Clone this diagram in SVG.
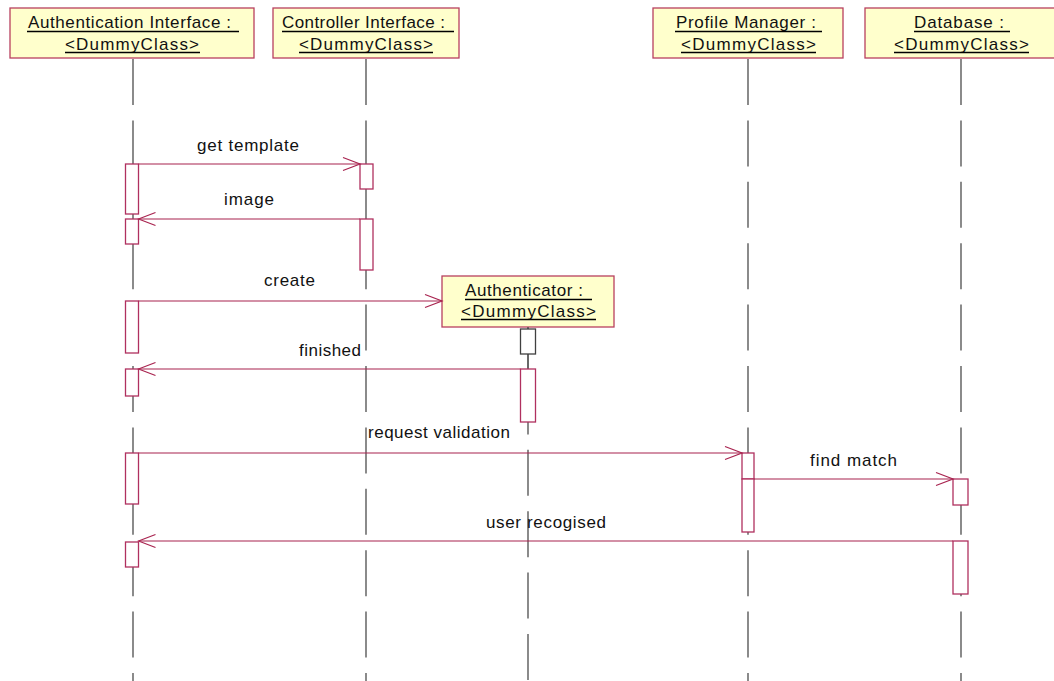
<svg xmlns="http://www.w3.org/2000/svg" width="1054" height="681" viewBox="0 0 1054 681">
  <defs>
    <style>
      .obj { fill: #ffffcc; stroke: #b8405f; stroke-width: 1.3; }
      .life { stroke: #5a5a5a; stroke-width: 1.4; fill: none; stroke-dasharray: 46 15.4; }
      .solid { stroke: #5a5a5a; stroke-width: 1.4; fill: none; }
      .act { fill: #ffffff; stroke: #b0305f; stroke-width: 1.3; }
      .actk { fill: #ffffff; stroke: #404040; stroke-width: 1.3; }
      .msg { stroke: #a8234f; stroke-width: 1.2; fill: none; }
      .ul { stroke: #000000; stroke-width: 1.3; }
      text { font-family: "Liberation Sans", Arial, sans-serif; font-size: 17px; fill: #111111; }
    </style>
    <marker id="open" viewBox="0 0 20 16" refX="18" refY="8" markerWidth="20" markerHeight="16" markerUnits="userSpaceOnUse" orient="auto">
      <path d="M1,1.5 L18,8 L1,14.5" fill="none" stroke="#a8234f" stroke-width="1.2"/>
    </marker>
  </defs>
  <rect width="1054" height="681" fill="#ffffff"/>

  <!-- lifelines -->
  <g id="lifelines">
    <line class="life" x1="133" y1="59" x2="133" y2="681"/>
    <line class="life" x1="366" y1="59" x2="366" y2="681"/>
    <line class="life" x1="528" y1="327" x2="528" y2="681"/>
    <line class="life" x1="748" y1="59" x2="748" y2="681"/>
    <line class="life" x1="961" y1="59" x2="961" y2="681"/>
  </g>

  <g id="auth-interface">
    <rect class="obj" x="10" y="8" width="244" height="50"/>
    <text x="28" y="28" textLength="203" lengthAdjust="spacing">Authentication Interface :</text>
    <line class="ul" x1="27" y1="31.5" x2="239" y2="31.5"/>
    <text x="65" y="50" textLength="134" lengthAdjust="spacing">&lt;DummyClass&gt;</text>
    <line class="ul" x1="65" y1="52.5" x2="200" y2="52.5"/>
  </g>

  <g id="controller-interface">
    <rect class="obj" x="273" y="8" width="186" height="50"/>
    <text x="282" y="28" textLength="163" lengthAdjust="spacing">Controller Interface :</text>
    <line class="ul" x1="282" y1="31.5" x2="454" y2="31.5"/>
    <text x="299" y="50" textLength="134" lengthAdjust="spacing">&lt;DummyClass&gt;</text>
    <line class="ul" x1="299" y1="52.5" x2="433" y2="52.5"/>
  </g>

  <g id="profile-manager">
    <rect class="obj" x="653" y="8" width="190" height="50"/>
    <text x="676" y="28" textLength="140" lengthAdjust="spacing">Profile Manager :</text>
    <line class="ul" x1="675" y1="31.5" x2="822" y2="31.5"/>
    <text x="681" y="50" textLength="135" lengthAdjust="spacing">&lt;DummyClass&gt;</text>
    <line class="ul" x1="681" y1="52.5" x2="816" y2="52.5"/>
  </g>

  <g id="database">
    <rect class="obj" x="865" y="8" width="194" height="50"/>
    <text x="914" y="28" textLength="90" lengthAdjust="spacing">Database :</text>
    <line class="ul" x1="914" y1="31.5" x2="1010" y2="31.5"/>
    <text x="894" y="50" textLength="135" lengthAdjust="spacing">&lt;DummyClass&gt;</text>
    <line class="ul" x1="894" y1="52.5" x2="1029" y2="52.5"/>
  </g>

  <g id="authenticator">
    <rect class="obj" x="442" y="276" width="172" height="51"/>
    <text x="465" y="296" textLength="118" lengthAdjust="spacing">Authenticator :</text>
    <line class="ul" x1="465" y1="299.5" x2="592" y2="299.5"/>
    <text x="461" y="317" textLength="135" lengthAdjust="spacing">&lt;DummyClass&gt;</text>
    <line class="ul" x1="461" y1="319.5" x2="596" y2="319.5"/>
  </g>

  <!-- activation bars -->
  <g id="activations">
    <rect class="act" x="125.5" y="164" width="13" height="50"/>
    <rect class="act" x="125.5" y="219" width="13" height="25"/>
    <rect class="act" x="125.5" y="301" width="13" height="52"/>
    <rect class="act" x="125.5" y="369" width="13" height="27"/>
    <rect class="act" x="125.5" y="453" width="13" height="51"/>
    <rect class="act" x="125.5" y="542" width="13" height="25"/>

    <rect class="act" x="360" y="164" width="13" height="25"/>
    <rect class="act" x="360" y="219" width="13" height="51"/>

    <line class="solid" x1="528" y1="327" x2="528" y2="369"/>
    <rect class="actk" x="520.5" y="329" width="15" height="25"/>
    <rect class="act" x="520.5" y="369" width="15" height="53"/>

    <rect class="act" x="742" y="453" width="12" height="26"/>
    <rect class="act" x="742" y="479" width="12" height="53"/>

    <rect class="act" x="953" y="479" width="15" height="26"/>
    <rect class="act" x="953" y="541" width="15" height="53"/>
  </g>

  <!-- messages -->
  <g id="connectors">
    <line class="msg" x1="138.5" y1="164" x2="360" y2="164" marker-end="url(#open)"/>
    <line class="msg" x1="360" y1="219" x2="138.5" y2="219" marker-end="url(#open)"/>
    <line class="msg" x1="138.5" y1="301" x2="442" y2="301" marker-end="url(#open)"/>
    <line class="msg" x1="520.5" y1="369" x2="138.5" y2="369" marker-end="url(#open)"/>
    <line class="msg" x1="138.5" y1="453" x2="742" y2="453" marker-end="url(#open)"/>
    <line class="msg" x1="754" y1="479" x2="953" y2="479" marker-end="url(#open)"/>
    <line class="msg" x1="953" y1="541" x2="138.5" y2="541" marker-end="url(#open)"/>
  </g>

  <g id="labels">
    <text x="197" y="150.5" textLength="102" lengthAdjust="spacing">get template</text>
    <text x="224" y="205" textLength="50" lengthAdjust="spacing">image</text>
    <text x="264" y="286" textLength="51" lengthAdjust="spacing">create</text>
    <text x="299" y="356" textLength="62" lengthAdjust="spacing">finished</text>
    <text x="368" y="438" textLength="142" lengthAdjust="spacing">request validation</text>
    <text x="810" y="466" textLength="87" lengthAdjust="spacing">find match</text>
    <text x="486" y="528" textLength="120" lengthAdjust="spacing">user recogised</text>
  </g>
</svg>
